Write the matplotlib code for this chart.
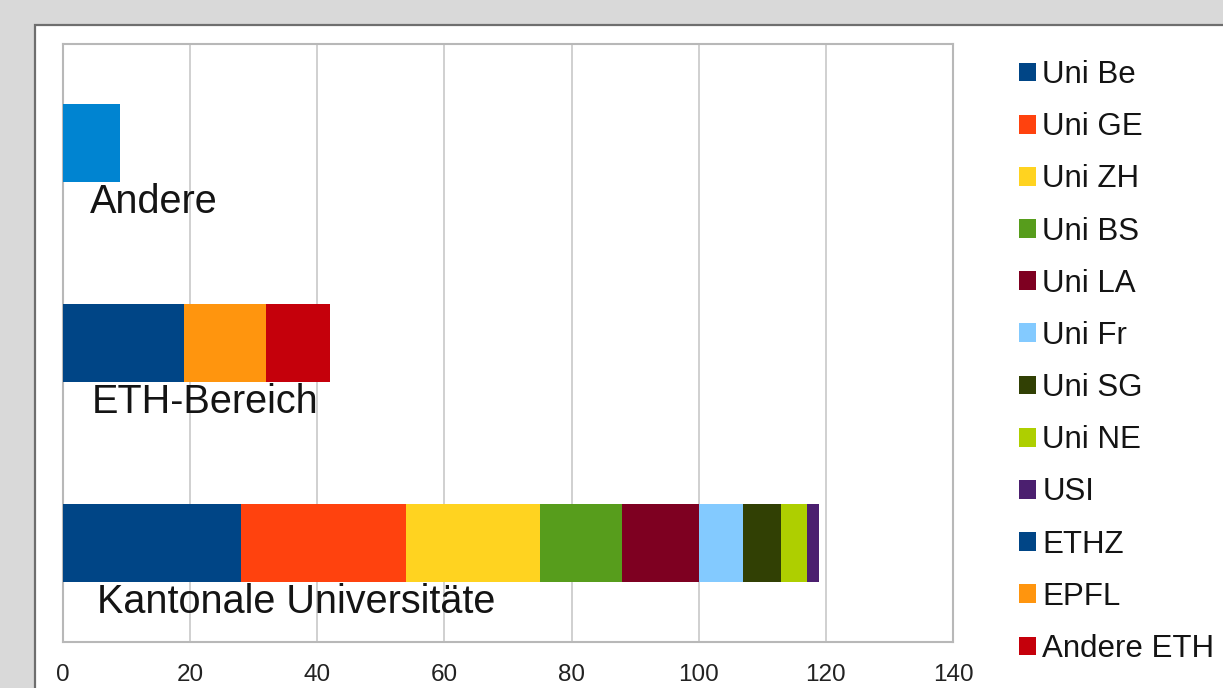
import matplotlib
matplotlib.use("Agg")
import matplotlib.pyplot as plt
from matplotlib.patches import Rectangle, Patch
import numpy as np

plt.rcParams['font.family'] = ['Liberation Sans', 'DejaVu Sans']

categories = ["Kantonale Universitäte", "ETH-Bereich", "Andere"]
series_names = ["Uni Be", "Uni GE", "Uni ZH", "Uni BS", "Uni LA", "Uni Fr",
                "Uni SG", "Uni NE", "USI", "ETHZ", "EPFL", "Andere ETH", "Andere"]
uni_be = [28, 0, 0]
uni_ge = [26, 0, 0]
uni_zh = [21, 0, 0]
uni_bs = [13, 0, 0]
uni_la = [12, 0, 0]
uni_fr = [7, 0, 0]
uni_sg = [6, 0, 0]
uni_ne = [4, 0, 0]
usi = [2, 0, 0]
ethz = [0, 19, 0]
epfl = [0, 13, 0]
andere_eth = [0, 10, 0]
andere = [0, 0, 9]
series_values = [uni_be, uni_ge, uni_zh, uni_bs, uni_la, uni_fr, uni_sg,
                 uni_ne, usi, ethz, epfl, andere_eth, andere]
colors = ["#004586", "#ff420e", "#ffd320", "#579d1c", "#7e0021", "#83caff",
          "#314004", "#aecf00", "#4b1f6f", "#004586", "#ff950e", "#c5000b", "#0084d1"]
xticks = [0, 20, 40, 60, 80, 100, 120, 140]

W, H = 1223, 688
fig = plt.figure(figsize=(W / 100, H / 100), dpi=100)
fig.patch.set_facecolor("#d9d9d9")

# white panel
panel = Rectangle((35 / W, -0.01), 1.0, 1.01 - 25 / H, transform=fig.transFigure,
                  facecolor="white", edgecolor="#6e6e6e", linewidth=1.6, zorder=-5)
fig.patches.append(panel)

ax = fig.add_axes([63 / W, 1 - 642 / H, (953 - 63) / W, (642 - 44) / H], zorder=2)
ax.set_facecolor("white")

y = np.arange(len(categories))
left = np.zeros(len(categories))
for name, vals, c in zip(series_names, series_values, colors):
    vals = np.array(vals, dtype=float)
    ax.barh(y, vals, left=left, height=0.39, color=c, label=name, zorder=3)
    left += vals

ax.set_xlim(0, 140)
ax.set_ylim(-0.495, 2.495)
ax.set_xticks(xticks)
ax.set_xticklabels([str(t) for t in xticks], fontsize=17.5, color="#222222")
ax.tick_params(axis="x", length=0, pad=16)
ax.set_yticks([])
ax.grid(axis="x", color="#c8c8c8", linewidth=1.2, zorder=0)
for s in ax.spines.values():
    s.set_color("#b8b8b8")
    s.set_linewidth(1.5)

label_x = [5.3, 4.6, 4.2]
for yi, cat, lx in zip(y, categories, label_x):
    ax.text(lx, yi - 0.35, cat, fontsize=28.5, color="#141414", va="baseline",
            ha="left", zorder=4)

handles = [Patch(facecolor=c, edgecolor="none") for c in colors[:12]]
leg = fig.legend(handles, series_names[:12], loc="upper left",
                 bbox_to_anchor=(1019 / W, 1 - 60 / H), frameon=False,
                 fontsize=22.5, handlelength=0.55, handleheight=0.55,
                 handletextpad=0.2, labelspacing=0.71, borderpad=0,
                 borderaxespad=0)
for t in leg.get_texts():
    t.set_color("#141414")

fig.savefig("out.png", dpi=100, facecolor=fig.get_facecolor())
